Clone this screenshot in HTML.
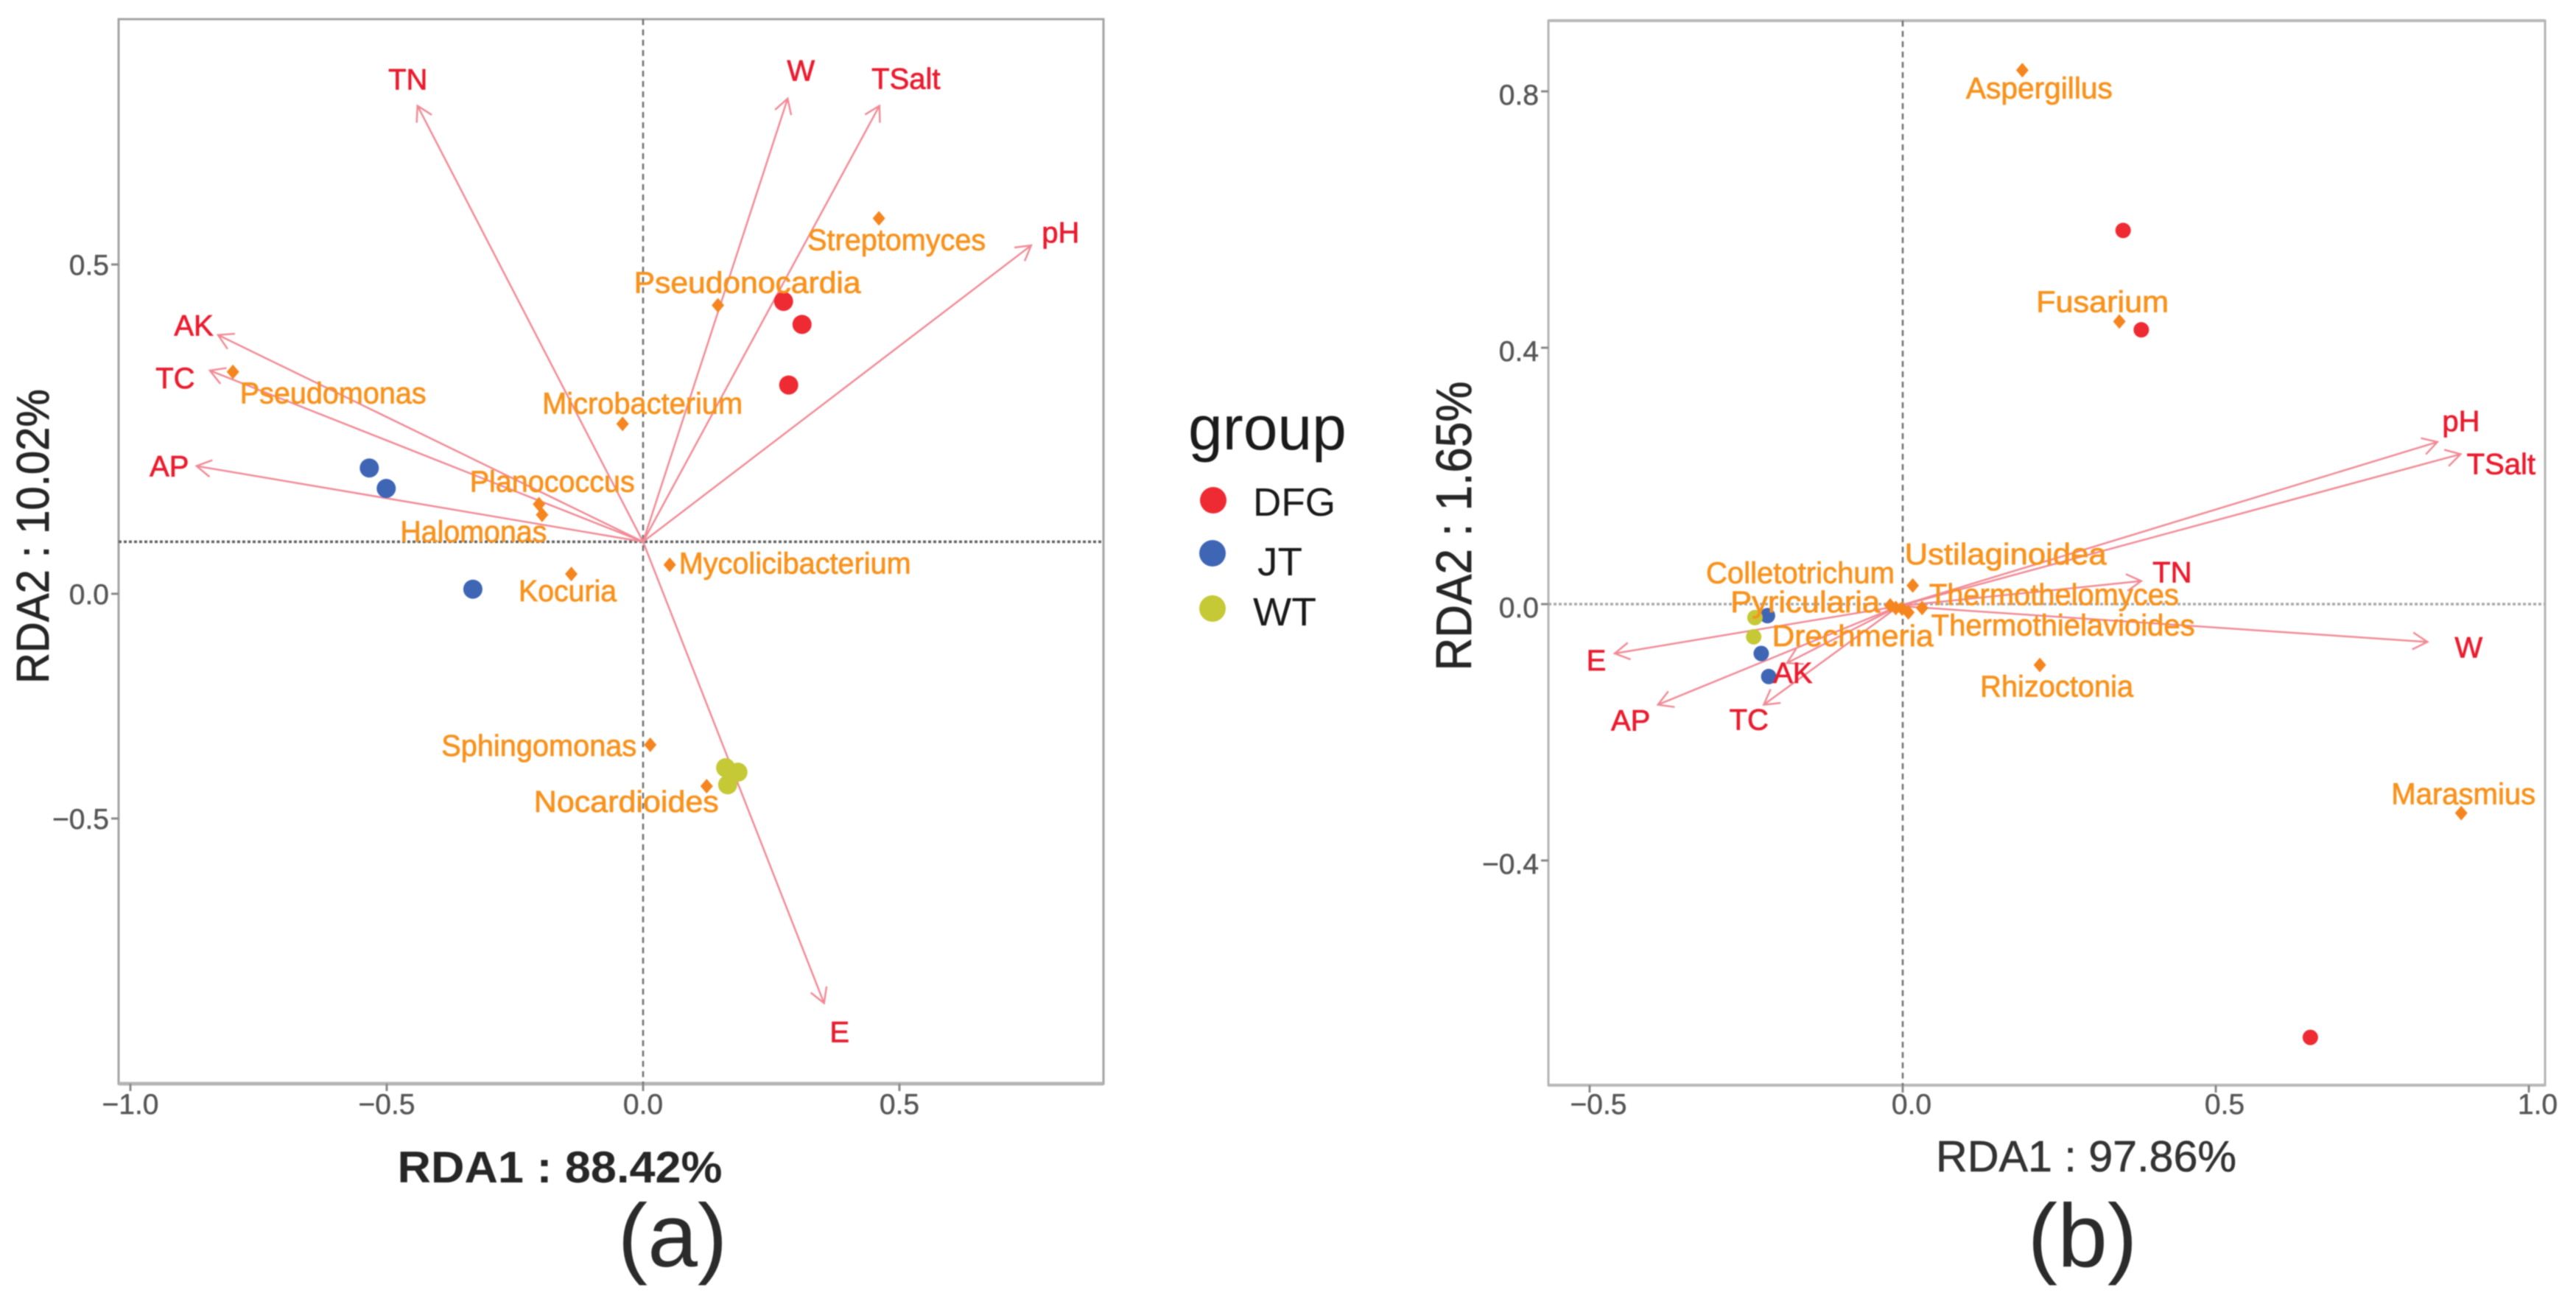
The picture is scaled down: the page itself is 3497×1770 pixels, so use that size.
<!DOCTYPE html>
<html lang="en">
<head>
<meta charset="utf-8">
<title>RDA biplots</title>
<style>
html,body{margin:0;padding:0;background:#fff;}
svg{display:block;font-family:"Liberation Sans",Arial,sans-serif;filter:blur(0.7px);}
</style>
</head>
<body>
<svg id="chart" xmlns="http://www.w3.org/2000/svg" width="3497" height="1770" viewBox="0 0 3497 1770">
  <rect x="0" y="0" width="3497" height="1770" fill="#ffffff"/>

  <g id="panel-a">
    <rect x="161" y="26" width="1337" height="1445" fill="none" stroke="#a3a3a3" stroke-width="3"/>
    <line x1="161" y1="1471" x2="1498" y2="1471" stroke="#b5b5b5" stroke-width="5"/>
  </g>
  <g id="panel-b">
    <rect x="2102" y="28" width="1353" height="1445" fill="none" stroke="#b3b3b3" stroke-width="3"/>
    <line x1="2102" y1="28" x2="3455" y2="28" stroke="#b8b8b8" stroke-width="4"/>
    <line x1="2102" y1="1473" x2="3455" y2="1473" stroke="#b8b8b8" stroke-width="4"/>
  </g>

  <text x="760" y="1605" text-anchor="middle" font-size="60" font-weight="700" fill="#262626" textLength="441" lengthAdjust="spacingAndGlyphs">RDA1 : 88.42%</text>
  <text transform="translate(66,728) rotate(-90)" text-anchor="middle" font-size="62" fill="#262626" stroke="#262626" stroke-width="0.8" textLength="400" lengthAdjust="spacingAndGlyphs">RDA2 : 10.02%</text>
  <text x="2832" y="1590" text-anchor="middle" font-size="59" fill="#333333" stroke="#333333" stroke-width="0.6" textLength="408" lengthAdjust="spacingAndGlyphs">RDA1 : 97.86%</text>
  <text transform="translate(1997,714) rotate(-90)" text-anchor="middle" font-size="68" fill="#262626" stroke="#262626" stroke-width="0.8" textLength="393" lengthAdjust="spacingAndGlyphs">RDA2 : 1.65%</text>
  <text x="913" y="1719" text-anchor="middle" font-size="122" fill="#2b2b2b">(a)</text>
  <text x="2827" y="1719" text-anchor="middle" font-size="122" fill="#2b2b2b">(b)</text>

  <g>
    <text x="1613" y="610" font-size="84" fill="#1a1a1a">group</text>
    <g>
      <circle cx="1647" cy="679" r="18" fill="#ee2a33"/>
      <text x="1701" y="700" font-size="54" fill="#1a1a1a" textLength="112" lengthAdjust="spacingAndGlyphs">DFG</text>
    </g>
    <g>
      <circle cx="1646" cy="751" r="18" fill="#3f65b5"/>
      <text x="1707" y="781" font-size="54" fill="#1a1a1a" textLength="61" lengthAdjust="spacingAndGlyphs">JT</text>
    </g>
    <g>
      <circle cx="1646" cy="826" r="18" fill="#c5c935"/>
      <text x="1701" y="849" font-size="54" fill="#1a1a1a" textLength="86" lengthAdjust="spacingAndGlyphs">WT</text>
    </g>
  </g>
</svg>

<script>
// ---------- Panel (a) data ----------
const aXTicks = [-1.0, -0.5, 0.0, 0.5];
const aYTicks = [0.5, 0.0, -0.5];
const aOriginX = 0.0;
const aOriginY = 0.079;
const aEnvNames = ["TN", "W", "TSalt", "pH", "AK", "TC", "AP", "E"];
const aEnvX = [-0.440, 0.282, 0.461, 0.757, -0.829, -0.845, -0.871, 0.353];
const aEnvY = [0.741, 0.752, 0.741, 0.529, 0.393, 0.339, 0.194, -0.911];
const aTaxaNames = ["Streptomyces", "Pseudonocardia", "Pseudomonas", "Microbacterium", "Planococcus", "Halomonas", "Kocuria", "Mycolicibacterium", "Sphingomonas", "Nocardioides"];
const aTaxaX = [0.460, 0.146, -0.800, -0.040, -0.203, -0.197, -0.140, 0.052, 0.014, 0.124];
const aTaxaY = [0.570, 0.438, 0.337, 0.258, 0.136, 0.120, 0.030, 0.044, -0.336, -0.428];
const aSampleGroups = ["DFG", "DFG", "DFG", "JT", "JT", "JT", "WT", "WT", "WT"];
const aSampleX = [0.274, 0.310, 0.284, -0.534, -0.501, -0.332, 0.161, 0.185, 0.165];
const aSampleY = [0.444, 0.409, 0.317, 0.191, 0.160, 0.007, -0.387, -0.397, -0.425];

// ---------- Panel (b) data ----------
const bXTicks = [-0.5, 0.0, 0.5, 1.0];
const bYTicks = [0.8, 0.4, 0.0, -0.4];
const bOriginX = -0.006;
const bOriginY = -0.003;
const bEnvNames = ["pH", "TSalt", "TN", "W", "E", "AP", "TC", "AK"];
const bEnvX = [0.854, 0.891, 0.381, 0.838, -0.460, -0.391, -0.222, -0.185];
const bEnvY = [0.253, 0.234, 0.036, -0.059, -0.077, -0.157, -0.157, -0.092];
const bTaxaNames = ["Aspergillus", "Fusarium", "Ustilaginoidea", "Rhizoctonia", "Marasmius", "Colletotrichum", "Pyricularia", "Drechmeria", "Thermothelomyces", "Thermothielavioides"];
const bTaxaX = [0.191, 0.346, 0.016, 0.219, 0.892, -0.020, -0.011, -0.001, 0.031, 0.009];
const bTaxaY = [0.833, 0.441, 0.029, -0.095, -0.326, -0.002, -0.006, -0.007, -0.006, -0.013];
const bSampleGroups = ["DFG", "DFG", "DFG", "JT", "JT", "JT", "WT", "WT"];
const bSampleX = [0.352, 0.381, 0.651, -0.216, -0.226, -0.214, -0.236, -0.238];
const bSampleY = [0.583, 0.428, -0.676, -0.018, -0.077, -0.113, -0.021, -0.051];

// ---------- Axis functions ----------
function xA(v) { return 873 + 696 * v; }
function yA(v) { return v >= 0 ? 806 - 894 * v : 806 - 610 * v; }
function xB(v) { return 2583 + 850 * v; }
function yB(v) { return 820 - 870 * v; }

// ---------- Label layout (pixel offsets from each mark, kept apart from the data) ----------
const layoutA = {
  env: {TN:[-13,-36], W:[18,-38], TSalt:[36,-37], pH:[40,-18], AK:[-33,-13], TC:[-47,10], AP:[-37,0], E:[21,39]},
  taxa: {
    Streptomyces:[24,29,242], Pseudonocardia:[40,-31,308], Pseudomonas:[136,29,253],
    Microbacterium:[27,-28,272], Planococcus:[18,-31,224], Halomonas:[-93,23,199],
    Kocuria:[-5,23,133], Mycolicibacterium:[170,-2,315], Sphingomonas:[-151,1,265], Nocardioides:[-109,21,251]
  }
};
const layoutB = {
  env: {pH:[32,-29], TSalt:[55,13], TN:[42,-12], W:[56,7], E:[-25,9], AP:[-37,21], TC:[-20,20], AK:[8,13]},
  taxa: {
    Aspergillus:[23,24,199], Fusarium:[-23,-27,180], Ustilaginoidea:[126,-43,274], Rhizoctonia:[23,29,208],
    Marasmius:[3,-26,196], Colletotrichum:[-122,-44,256], Pyricularia:[-123,-8,203], Drechmeria:[-67,37,219],
    Thermothelomyces:[179,-18,339], Thermothielavioides:[210,17,358]
  }
};

const groupColors = {DFG: "#ee2a33", JT: "#3f65b5", WT: "#c5c935"};
const NS = "http://www.w3.org/2000/svg";

function make(tag, attrs, parent) {
  const el = document.createElementNS(NS, tag);
  for (const k in attrs) el.setAttribute(k, attrs[k]);
  parent.appendChild(el);
  return el;
}
function fmtTick(v) {
  return (v < 0 ? "\u2212" : "") + Math.abs(v).toFixed(1);
}
function slug(s) { return s.toLowerCase().replace(/[^a-z0-9]+/g, "-"); }

function drawPanel(p) {
  const root = document.getElementById(p.id);
  const pre = p.id;

  // reference lines
  const v = make("line", {x1: p.x(p.refX), y1: p.top, x2: p.x(p.refX), y2: p.bottom, stroke: "#6f6f6f", "stroke-width": 2.5, "stroke-dasharray": "8 6"}, root);
  
  
  const h = make("line", {x1: p.left, y1: p.y(p.refY), x2: p.right, y2: p.y(p.refY), stroke: p.hColor, "stroke-width": 3.5, "stroke-dasharray": "4 3"}, root);
  
  

  // x ticks
  p.xTicks.forEach(function (t) {
    const tx = p.x(t);
    const m = make("line", {x1: tx, y1: p.bottom, x2: tx, y2: p.bottom + 10, stroke: "#8a8a8a", "stroke-width": 3}, root);
    
    
    const l = make("text", {x: tx + p.xTickLabelDx, y: 1512, "text-anchor": "middle", "font-size": 39, fill: "#565656", stroke: "#565656", "stroke-width": 0.5}, root);
    
    
    l.textContent = fmtTick(t);
  });
  // y ticks
  p.yTicks.forEach(function (t) {
    const ty = p.y(t);
    const m = make("line", {x1: p.left - 10, y1: ty, x2: p.left, y2: ty, stroke: "#8a8a8a", "stroke-width": 3}, root);
    
    
    const l = make("text", {x: p.left - 13, y: ty + p.yTickLabelDy, "text-anchor": "end", "font-size": 39, fill: "#565656", stroke: "#565656", "stroke-width": 0.5}, root);
    
    
    l.textContent = fmtTick(t);
  });

  // environment arrows
  const ox = p.x(p.refOriginX), oy = p.y(p.refOriginY);
  p.envNames.forEach(function (name, i) {
    const tx = p.x(p.envX[i]), ty = p.y(p.envY[i]);
    const ang = Math.atan2(ty - oy, tx - ox);
    const len = 23, spread = Math.PI / 6;
    const b1x = tx - len * Math.cos(ang - spread), b1y = ty - len * Math.sin(ang - spread);
    const b2x = tx - len * Math.cos(ang + spread), b2y = ty - len * Math.sin(ang + spread);
    const d = "M" + ox + " " + oy + "L" + tx + " " + ty + "M" + b1x + " " + b1y + "L" + tx + " " + ty + "L" + b2x + " " + b2y;
    const a = make("path", {d: d, fill: "none", stroke: "#f08b96", "stroke-width": 2.5}, root);
    
    
  });

  // samples
  p.sampleGroups.forEach(function (g, i) {
    const c = make("circle", {cx: p.x(p.sampleX[i]), cy: p.y(p.sampleY[i]), r: p.sampleR, fill: groupColors[g]}, root);
    
    
  });

  // taxa diamonds
  p.taxaNames.forEach(function (name, i) {
    const cx = p.x(p.taxaX[i]), cy = p.y(p.taxaY[i]);
    const pts = [cx, cy - 10, cx + 8.5, cy, cx, cy + 10, cx - 8.5, cy].join(" ");
    const s = make("polygon", {points: pts, fill: "#f5851f"}, root);
    
    
  });

  // taxa labels
  p.taxaNames.forEach(function (name, i) {
    const off = p.layout.taxa[name];
    const l = make("text", {
      x: p.x(p.taxaX[i]) + off[0], y: p.y(p.taxaY[i]) + off[1] + 14,
      "text-anchor": "middle", "font-size": 41, fill: "#f7931e", stroke: "#f7931e", "stroke-width": 0.8,
      textLength: off[2], lengthAdjust: "spacingAndGlyphs"
    }, root);
    
    
    l.textContent = name;
  });

  // environment labels
  p.envNames.forEach(function (name, i) {
    const off = p.layout.env[name];
    const l = make("text", {
      x: p.x(p.envX[i]) + off[0], y: p.y(p.envY[i]) + off[1] + 14,
      "text-anchor": "middle", "font-size": 40, fill: "#e81e30", stroke: "#e81e30", "stroke-width": 0.8
    }, root);
    
    
    l.textContent = name;
  });
}

drawPanel({
  id: "panel-a", x: xA, y: yA, left: 161, right: 1498, top: 26, bottom: 1471,
  refX: aOriginX, refY: aOriginY, refOriginX: aOriginX, refOriginY: aOriginY,
  hColor: "#5f5f5f", xTicks: aXTicks, yTicks: aYTicks, xTickLabelDx: 0, yTickLabelDy: 14,
  envNames: aEnvNames, envX: aEnvX, envY: aEnvY,
  taxaNames: aTaxaNames, taxaX: aTaxaX, taxaY: aTaxaY,
  sampleGroups: aSampleGroups, sampleX: aSampleX, sampleY: aSampleY, sampleR: 13, layout: layoutA
});
drawPanel({
  id: "panel-b", x: xB, y: yB, left: 2102, right: 3455, top: 28, bottom: 1473,
  refX: 0, refY: 0, refOriginX: bOriginX, refOriginY: bOriginY,
  hColor: "#a8a8a8", xTicks: bXTicks, yTicks: bYTicks, xTickLabelDx: 12, yTickLabelDy: 18,
  envNames: bEnvNames, envX: bEnvX, envY: bEnvY,
  taxaNames: bTaxaNames, taxaX: bTaxaX, taxaY: bTaxaY,
  sampleGroups: bSampleGroups, sampleX: bSampleX, sampleY: bSampleY, sampleR: 10.5, layout: layoutB
});
</script>
</body>
</html>
